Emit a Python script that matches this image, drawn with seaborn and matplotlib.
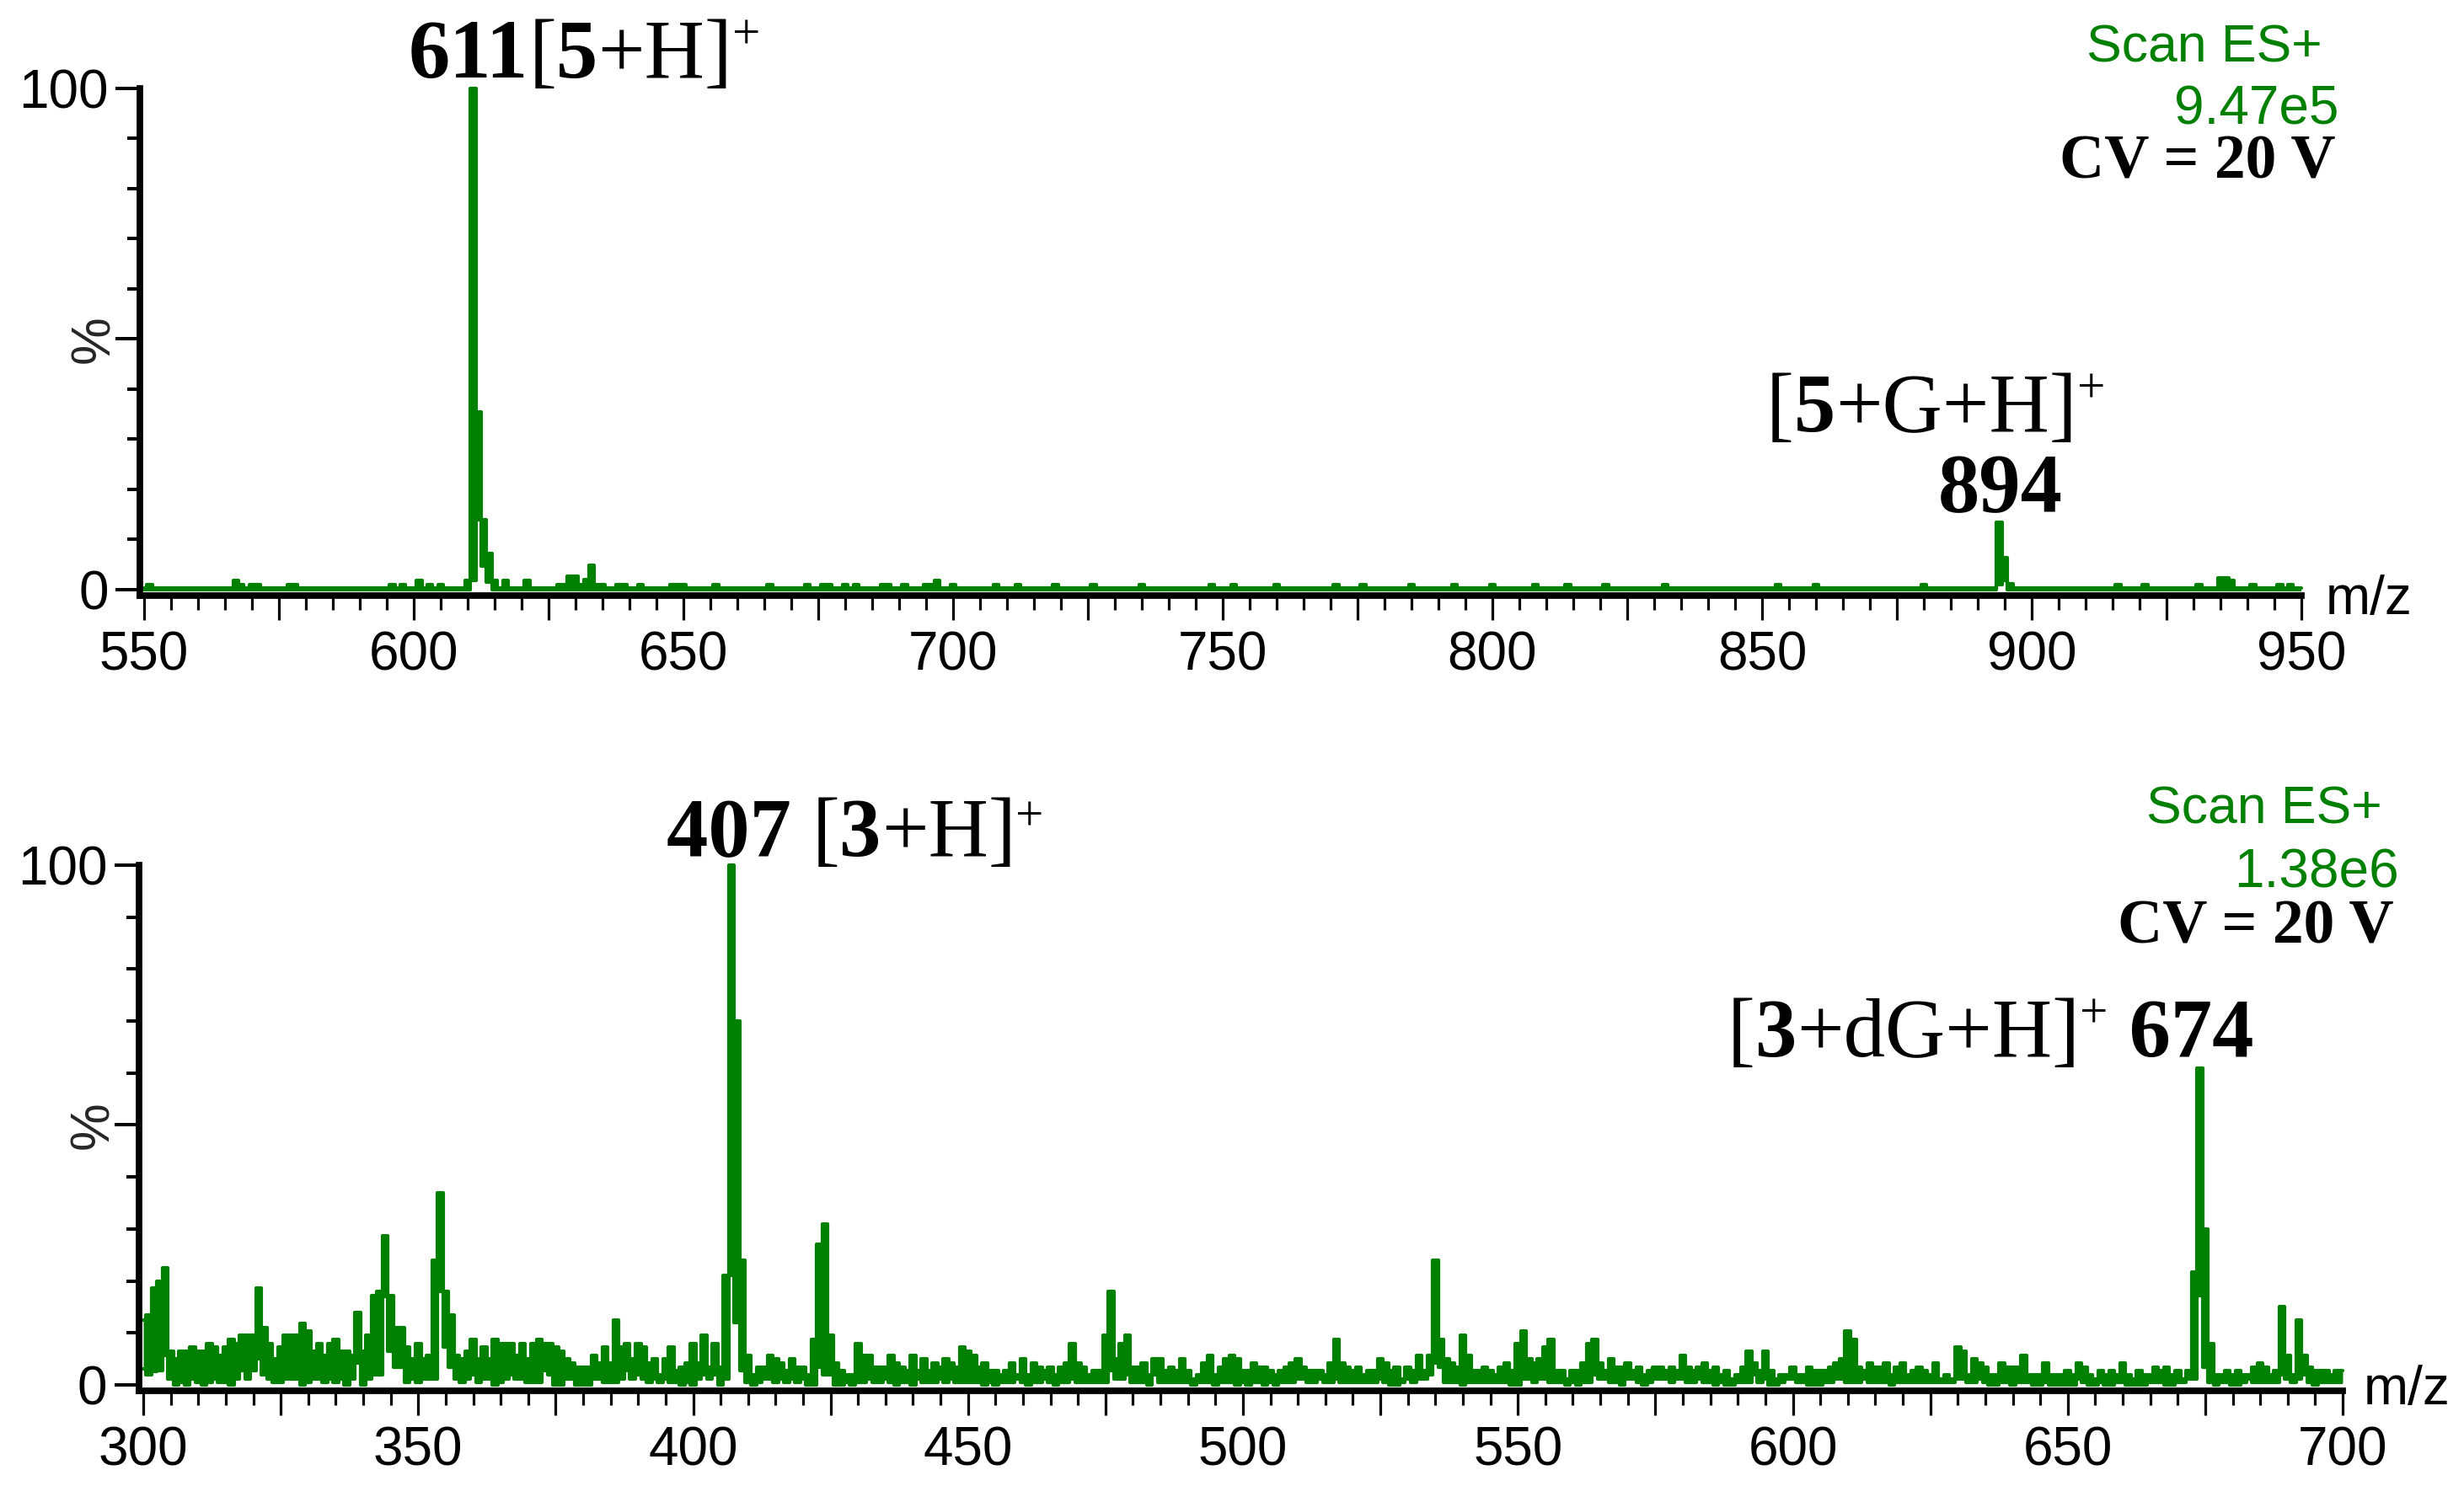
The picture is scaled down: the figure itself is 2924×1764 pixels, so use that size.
import numpy as np
import pandas as pd
import matplotlib
matplotlib.use("Agg")
import matplotlib.pyplot as plt
import seaborn as sns
from matplotlib.transforms import blended_transform_factory

W, H = 2924, 1764
GREEN = "#008000"

# ---------------- data: upper spectrum (m/z 550-950), % intensity ----------------
top_mz = np.arange(550, 951)
top_baseline = 0.3
top_upper_pts = {
    551: 1.0, 567: 1.8, 568: 1.0, 570: 1.0, 571: 1.0, 577: 1.0, 578: 1.0,
    596: 1.0, 598: 1.0, 601: 1.8, 603: 1.0, 605: 1.0, 610: 1.8,
    611: 100.0, 612: 35.5, 613: 14.0, 614: 7.2, 615: 1.8, 617: 1.8, 621: 1.8,
    627: 1.0, 628: 1.0, 629: 2.6, 630: 2.6, 631: 1.0, 632: 2.0, 633: 4.8,
    634: 1.0, 635: 1.0, 638: 1.0, 639: 1.0, 642: 1.0, 648: 1.0, 649: 1.0,
    650: 1.0, 656: 1.0, 666: 1.0, 673: 1.0, 676: 1.0, 677: 1.0, 680: 1.0,
    682: 1.0, 687: 1.0, 688: 1.0, 691: 1.0, 695: 1.0, 696: 1.0, 697: 1.8,
    700: 1.0, 708: 1.0, 712: 1.0, 719: 1.0, 726: 1.0, 735: 1.0, 748: 1.0,
    752: 1.0, 760: 1.0, 771: 1.0, 776: 1.0, 785: 1.0, 793: 1.0, 800: 1.0,
    808: 1.0, 814: 1.0, 821: 1.0, 832: 1.0, 853: 1.0, 860: 1.0, 880: 1.0,
    894: 13.5, 895: 6.4, 896: 1.2, 916: 1.0, 921: 1.0, 931: 1.0,
    935: 2.4, 936: 2.4, 937: 1.8, 941: 1.0, 946: 1.0, 948: 1.0,
}
top_lower_pts = {611: 1.8, 612: 14.0, 613: 4.6, 614: 1.5, 894: 1.0, 895: 1.9}

# ---------------- data: lower spectrum (m/z 300-700), % intensity ----------------
bot_mz = np.arange(300, 701)
bot_upper = [
    12.5, 13.4, 18.6, 20.0, 22.5, 6.5, 5.0, 6.5, 6.5, 7.2,
    6.5, 6.5, 8.0, 7.2, 5.7, 7.2, 8.8, 8.0, 9.5, 9.5,
    9.5, 18.6, 11.0, 8.0, 5.0, 7.2, 9.5, 9.5, 9.5, 11.8,
    10.3, 6.5, 8.0, 5.7, 8.0, 8.8, 6.5, 6.5, 5.7, 14.0,
    6.5, 9.5, 17.1, 18.0, 28.6, 17.1, 11.0, 11.0, 7.2, 5.0,
    8.0, 5.0, 5.7, 24.0, 37.0, 18.0, 13.4, 5.7, 5.0, 6.5,
    8.8, 5.0, 7.2, 5.0, 8.8, 8.0, 8.0, 8.0, 5.7, 8.0,
    5.0, 8.0, 8.8, 8.0, 8.0, 7.2, 6.5, 5.0, 4.2, 3.4,
    3.4, 3.4, 5.7, 4.2, 7.2, 4.2, 12.5, 7.2, 8.0, 5.0,
    8.0, 7.2, 4.2, 5.0, 2.0, 5.0, 7.2, 2.7, 3.4, 4.2,
    8.0, 4.2, 9.5, 3.4, 8.0, 3.4, 21.0, 100.0, 70.0, 24.0,
    5.7, 2.0, 3.4, 3.4, 5.7, 5.0, 4.2, 2.7, 5.0, 3.4,
    3.4, 2.0, 8.8, 27.0, 31.0, 9.5, 4.2, 2.7, 2.0, 2.0,
    8.0, 5.7, 5.7, 3.4, 3.4, 3.4, 5.7, 4.2, 3.4, 2.7,
    5.7, 2.7, 5.0, 2.7, 4.2, 3.4, 5.0, 4.2, 3.4, 7.2,
    6.5, 5.7, 3.4, 4.2, 2.7, 2.7, 2.0, 2.7, 4.2, 2.0,
    5.0, 2.0, 4.2, 3.4, 2.7, 3.4, 2.0, 3.4, 4.2, 8.0,
    4.2, 3.4, 2.0, 2.7, 2.7, 9.5, 18.0, 5.0, 8.0, 9.5,
    3.4, 3.4, 4.2, 2.0, 5.0, 5.0, 2.7, 3.4, 2.7, 5.0,
    2.7, 1.2, 2.0, 4.2, 5.7, 2.0, 3.4, 5.0, 5.7, 5.0,
    2.7, 2.7, 4.2, 3.4, 3.4, 2.7, 2.0, 2.7, 3.4, 4.2,
    5.0, 3.4, 2.7, 2.7, 2.7, 2.0, 4.2, 8.8, 4.2, 3.4,
    2.7, 3.4, 2.0, 2.7, 2.7, 5.0, 4.2, 2.7, 3.4, 1.2,
    3.4, 2.7, 5.7, 2.7, 5.7, 24.0, 8.8, 5.0, 4.2, 3.4,
    9.5, 5.7, 2.7, 2.7, 3.4, 2.7, 2.0, 3.4, 4.2, 2.7,
    8.0, 10.3, 5.0, 4.2, 5.0, 7.2, 8.8, 2.7, 2.7, 1.2,
    2.7, 2.7, 4.2, 8.0, 8.8, 4.2, 2.7, 5.0, 3.4, 3.4,
    4.2, 2.7, 3.4, 2.0, 2.7, 3.4, 3.4, 2.7, 3.4, 2.7,
    5.7, 3.4, 2.7, 3.4, 4.2, 2.7, 3.4, 2.0, 2.7, 1.2,
    2.0, 3.4, 6.5, 4.2, 2.7, 6.5, 2.7, 1.2, 2.0, 2.0,
    3.4, 2.0, 2.0, 3.4, 2.7, 2.7, 2.7, 3.4, 4.2, 5.0,
    10.3, 8.8, 3.4, 2.7, 4.2, 3.4, 3.4, 4.2, 2.0, 3.4,
    4.2, 2.0, 2.7, 3.4, 2.7, 2.0, 4.2, 1.2, 2.0, 1.2,
    7.2, 6.5, 2.0, 5.0, 4.2, 3.4, 2.0, 2.0, 4.2, 3.4,
    3.4, 3.4, 5.7, 2.0, 2.0, 2.0, 4.2, 2.0, 2.0, 2.0,
    2.7, 2.0, 4.2, 3.4, 2.0, 1.2, 2.7, 2.0, 2.7, 2.0,
    4.2, 2.0, 1.2, 2.7, 2.0, 2.0, 3.4, 2.7, 3.4, 2.0,
    2.7, 1.2, 2.7, 21.7, 61.0, 30.0, 8.0, 2.0, 2.0, 2.7,
    2.0, 2.7, 2.0, 2.0, 3.4, 4.2, 3.4, 2.0, 2.7, 15.0,
    5.7, 2.0, 12.5, 5.7, 3.4, 2.7, 2.7, 2.7, 2.0, 2.7,
    2.7,
]
bot_lower = [
    3.0, 2.0, 2.5, 2.7, 5.7, 1.2, 0.0, 0.4, 0.0, 1.2,
    0.4, 0.0, 0.4, 1.2, 0.4, 0.4, 0.0, 1.2, 2.7, 1.2,
    2.7, 5.0, 2.0, 1.2, 0.4, 0.4, 1.2, 1.2, 1.2, 0.0,
    0.4, 1.2, 1.2, 0.4, 1.2, 0.4, 1.2, 0.0, 1.2, 4.2,
    0.0, 1.2, 2.0, 2.0, 17.0, 6.5, 3.4, 3.4, 0.4, 1.2,
    0.4, 1.2, 1.2, 1.2, 18.0, 7.2, 3.4, 1.2, 0.4, 1.2,
    2.0, 0.4, 1.2, 1.2, 0.0, 0.4, 1.2, 2.0, 1.2, 1.2,
    0.4, 0.4, 0.4, 2.7, 2.0, 0.0, 0.0, 1.2, 1.2, 0.0,
    0.0, 0.0, 1.2, 1.2, 0.4, 0.4, 0.4, 1.2, 2.7, 1.2,
    2.0, 1.2, 0.4, 1.2, 0.4, 1.2, 0.4, 0.4, 0.0, 0.4,
    0.0, 1.2, 2.0, 1.2, 2.0, 0.0, 1.2, 21.0, 12.0, 2.7,
    0.4, 0.0, 0.4, 1.2, 1.2, 0.4, 1.2, 0.4, 1.2, 0.4,
    1.2, 0.0, 0.0, 3.4, 2.0, 2.0, 0.0, 0.0, 0.4, 0.0,
    0.4, 0.4, 1.2, 0.4, 0.4, 1.2, 0.4, 0.0, 0.4, 0.4,
    0.0, 1.2, 0.4, 0.4, 0.4, 1.2, 0.4, 1.2, 0.4, 0.4,
    0.4, 0.4, 0.4, 0.0, 0.4, 0.0, 0.4, 0.4, 0.4, 1.2,
    0.4, 0.0, 0.4, 0.4, 1.2, 0.4, 0.0, 0.4, 0.4, 1.2,
    0.4, 0.4, 0.4, 0.4, 0.4, 0.4, 2.7, 1.2, 1.2, 2.0,
    0.4, 0.4, 0.4, 0.0, 2.0, 0.4, 0.4, 0.4, 0.4, 0.4,
    0.4, 0.0, 0.4, 0.4, 0.4, 0.0, 0.4, 0.4, 0.4, 0.0,
    0.4, 0.0, 0.4, 0.4, 0.0, 0.4, 0.0, 0.4, 0.4, 0.4,
    1.2, 1.2, 0.4, 0.4, 1.2, 0.4, 0.4, 1.2, 0.4, 0.4,
    0.4, 0.4, 0.4, 0.4, 0.4, 1.2, 0.4, 0.0, 0.0, 0.4,
    1.2, 0.4, 1.2, 1.2, 2.0, 4.2, 3.4, 0.4, 0.4, 0.4,
    0.0, 0.4, 0.4, 0.4, 0.4, 0.4, 0.4, 0.4, 0.4, 0.0,
    0.0, 1.2, 1.2, 0.4, 1.2, 1.2, 0.4, 0.4, 0.4, 0.0,
    0.4, 0.0, 0.4, 0.4, 2.0, 1.2, 1.2, 0.4, 0.4, 0.0,
    1.2, 1.2, 0.4, 0.0, 0.4, 1.2, 1.2, 1.2, 0.4, 1.2,
    1.2, 0.4, 0.4, 1.2, 0.4, 0.4, 0.0, 0.4, 0.0, 0.0,
    0.4, 0.4, 0.4, 2.0, 0.4, 1.2, 0.0, 0.0, 0.4, 1.2,
    1.2, 0.4, 0.4, 0.0, 0.0, 0.0, 0.4, 0.4, 1.2, 1.2,
    0.4, 0.4, 0.4, 1.2, 0.4, 0.4, 0.4, 0.4, 0.0, 0.4,
    0.4, 0.4, 0.4, 0.4, 0.4, 0.4, 0.4, 0.4, 0.4, 0.4,
    1.2, 1.2, 0.4, 0.4, 1.2, 0.4, 0.0, 0.0, 0.4, 0.4,
    0.0, 0.4, 0.4, 0.4, 0.0, 0.0, 0.4, 0.0, 0.0, 0.0,
    0.0, 0.0, 1.2, 0.4, 0.0, 0.0, 0.4, 0.0, 0.0, 0.4,
    0.4, 0.0, 0.0, 0.0, 0.0, 0.4, 0.4, 0.4, 0.0, 0.0,
    0.4, 0.4, 1.2, 1.2, 17.2, 3.4, 0.4, 0.0, 0.4, 0.4,
    0.0, 0.0, 0.4, 1.2, 0.4, 0.4, 0.4, 0.4, 0.4, 2.0,
    1.2, 0.4, 1.2, 2.0, 0.4, 0.0, 0.4, 0.4, 0.4, 0.4,
    0.4,
]

# axis ticks / labels
top_xticks = [550, 575, 600, 625, 650, 675, 700, 725, 750, 775, 800, 825, 850, 875, 900, 925, 950]
top_xlabels = ["550", "", "600", "", "650", "", "700", "", "750", "", "800", "", "850", "", "900", "", "950"]
bot_xticks = [300, 325, 350, 375, 400, 425, 450, 475, 500, 525, 550, 575, 600, 625, 650, 675, 700]
bot_xlabels = ["300", "", "350", "", "400", "", "450", "", "500", "", "550", "", "600", "", "650", "", "700"]
yticks = [0, 50, 100]
ylabels = ["0", "", "100"]

top_df = pd.DataFrame({"mz": top_mz})
top_df["upper"] = [top_upper_pts.get(m, top_baseline) for m in top_mz]
top_df["lower"] = [top_lower_pts.get(m, 0.0) for m in top_mz]
bot_df = pd.DataFrame({"mz": bot_mz, "upper": bot_upper, "lower": bot_lower})

sns.set_style("ticks")
plt.rcParams["font.family"] = ["Liberation Sans", "DejaVu Sans"]

fig = plt.figure(figsize=(W / 100, H / 100), dpi=100)
fig.patch.set_facecolor("white")


def px_rect(left, right, top, bottom):
    return [left / W, (H - bottom) / H, (right - left) / W, (bottom - top) / H]


ax_top = fig.add_axes(px_rect(166, 2731, 105, 707))
ax_bot = fig.add_axes(px_rect(165, 2780, 1027, 1651))


def draw_spectrum(ax, df, xlim, ylim, xticks, xlabels):
    ax.fill_between(df["mz"], df["lower"], df["upper"], step="mid", color=GREEN, linewidth=0)
    sns.lineplot(data=df, x="mz", y="upper", ax=ax, color=GREEN, linewidth=3.0,
                 drawstyle="steps-mid", estimator=None, sort=False, clip_on=False)
    sns.lineplot(data=df, x="mz", y="lower", ax=ax, color=GREEN, linewidth=3.0,
                 drawstyle="steps-mid", estimator=None, sort=False)
    ax.set_xlim(*xlim)
    ax.set_ylim(*ylim)
    ax.set_xlabel("")
    ax.set_ylabel("")
    sns.despine(ax=ax)
    for side in ("left", "bottom"):
        ax.spines[side].set_linewidth(5.6)
        ax.spines[side].set_color("black")
        ax.spines[side].set_capstyle("projecting")
    ax.set_xticks(xticks, xlabels)
    ax.set_xticks(np.arange(xticks[0], xticks[-1] + 1, 5), minor=True)
    ax.set_yticks(yticks, ylabels)
    ax.set_yticks(np.arange(0, 101, 10), minor=True)
    ax.tick_params(axis="x", which="both", bottom=True, top=False)
    ax.tick_params(axis="y", which="both", left=True, right=False)
    ax.tick_params(axis="x", which="major", length=21, width=2.3, pad=9,
                   labelsize=46, direction="out", colors="black")
    ax.tick_params(axis="x", which="minor", length=12, width=2.3, direction="out", colors="black")
    ax.tick_params(axis="y", which="major", length=21, width=2.9, pad=6,
                   labelsize=46, direction="out", colors="black")
    ax.tick_params(axis="y", which="minor", length=11, width=2.9, direction="out", colors="black")
    ax.set_facecolor("white")
    tr = blended_transform_factory(ax.transAxes, ax.transData)
    ax.text(-54 / (ax.get_position().width * W), 50, "%", transform=tr, rotation=90,
            ha="center", va="center", fontsize=46)


draw_spectrum(ax_top, top_df, (550 - 5 / 6.4, 950), (-1.2, 100), top_xticks, top_xlabels)
draw_spectrum(ax_bot, bot_df, (300 - 5 / 6.525, 700), (-1.15, 100), bot_xticks, bot_xlabels)

fig.canvas.draw()
renderer = fig.canvas.get_renderer()
SERIF = ["Liberation Serif", "DejaVu Serif"]


def put_pieces(x_px, base_px, pieces, size=71):
    x = x_px
    for txt, weight, rel, rise in pieces:
        t = fig.text(x / W, (H - base_px + rise) / H, txt, fontsize=size * rel,
                     fontweight=weight, family=SERIF, ha="left", va="baseline",
                     color="black")
        x = t.get_window_extent(renderer).x1


def put_text(x_px, base_px, txt, ha, size, color, family=None, weight="normal", va="baseline"):
    fig.text(x_px / W, (H - base_px) / H, txt, ha=ha, va=va, fontsize=size,
             color=color, family=family or ["Liberation Sans", "DejaVu Sans"],
             fontweight=weight)


# upper panel annotations
put_pieces(485, 92, [("611", "bold", 1, 0), ("[", "normal", 1, 0), ("5", "bold", 1, 0),
                     ("+H]", "normal", 1, 0), ("+", "normal", 0.6, 34)])
put_pieces(2096, 512, [("[", "normal", 1, 0), ("5", "bold", 1, 0), ("+G+H]", "normal", 1, 0),
                       ("+", "normal", 0.6, 34)])
put_pieces(2300, 607, [("894", "bold", 1, 0)])
put_text(2756, 74, "Scan ES+", "right", 45, GREEN)
put_text(2775, 148, "9.47e5", "right", 46, GREEN)
put_text(2772, 211, "CV = 20 V", "right", 53, "black", family=SERIF, weight="bold")
put_text(2760, 712, "m/z", "left", 46, "black", va="center")

# lower panel annotations
put_pieces(791, 1016, [("407 ", "bold", 1, 0), ("[", "normal", 1, 0), ("3", "bold", 1, 0),
                       ("+H]", "normal", 1, 0), ("+", "normal", 0.6, 30)])
put_pieces(2050, 1254, [("[", "normal", 1, 0), ("3", "bold", 1, 0), ("+dG+H]", "normal", 1, 0),
                        ("+", "normal", 0.6, 34), (" 674", "bold", 1, 0)])
put_text(2827, 977, "Scan ES+", "right", 45, GREEN)
put_text(2847, 1053, "1.38e6", "right", 46, GREEN)
put_text(2841, 1119, "CV = 20 V", "right", 53, "black", family=SERIF, weight="bold")
put_text(2805, 1650, "m/z", "left", 46, "black", va="center")

fig.savefig("out.png", dpi=100, facecolor="white")
